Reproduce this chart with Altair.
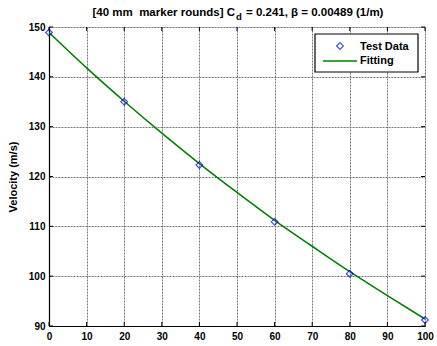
import altair as alt
import pandas as pd

# Test data
test_range = [0, 20, 40, 60, 80, 100]
test_velocity = [148.9, 135.0, 122.3, 110.9, 100.5, 91.2]

# Fitted curve
fit_range = [0, 10, 20, 30, 40, 50, 60, 70, 80, 90, 100]
fit_velocity = [148.9, 141.8, 135.1, 128.7, 122.6, 116.8, 111.2, 106.0, 100.9, 96.1, 91.4]

x_ticks = [0, 10, 20, 30, 40, 50, 60, 70, 80, 90, 100]
y_ticks = [90, 100, 110, 120, 130, 140, 150]

FONT = "Liberation Sans"

test_df = pd.DataFrame({"range": test_range, "velocity": test_velocity})
fit_df = pd.DataFrame({"range": fit_range, "velocity": fit_velocity})
xt_df = pd.DataFrame({"t": x_ticks})
yt_df = pd.DataFrame({"t": y_ticks})

xscale = alt.Scale(domain=[0, 100], nice=False, zero=False)
yscale = alt.Scale(domain=[90, 150], nice=False, zero=False)

xaxis = alt.Axis(values=x_ticks, title="Range (m)", grid=True, ticks=False,
                 labelOverlap=False, labelBound=False, labelFlush=False,
                 labelPadding=5, labelFont=FONT, labelFontWeight="bold", labelFontSize=10,
                 labelColor="black", titleFont=FONT, titleFontWeight="bold", titleFontSize=11,
                 titleColor="black", titleBaseline="top", titleY=18,
                 domainColor="black", domainWidth=1.2,
                 gridColor="#777777", gridDash=[2, 1], gridWidth=1)
yaxis = alt.Axis(values=y_ticks, title="Velocity (m/s)", grid=True, ticks=False,
                 labelOverlap=False, labelBound=False, labelFlush=False,
                 labelPadding=4, labelFont=FONT, labelFontWeight="bold", labelFontSize=10,
                 labelColor="black", titleFont=FONT, titleFontWeight="bold", titleFontSize=11,
                 titleColor="black", titlePadding=10,
                 domainColor="black", domainWidth=1.2,
                 gridColor="#777777", gridDash=[2, 1], gridWidth=1)

fit_line = alt.Chart(fit_df).mark_line(color="#008000", strokeWidth=1.6, interpolate="monotone").encode(
    x=alt.X("range:Q", scale=xscale, axis=xaxis),
    y=alt.Y("velocity:Q", scale=yscale, axis=yaxis),
)

points = alt.Chart(test_df).mark_point(shape="diamond", filled=False, color="#0000ff",
                                       size=45, strokeWidth=1.2).encode(
    x=alt.X("range:Q", scale=xscale, axis=xaxis),
    y=alt.Y("velocity:Q", scale=yscale, axis=yaxis),
)

# inward ticks on all four sides
top_ticks = alt.Chart(xt_df).mark_rule(color="black", strokeWidth=1).encode(
    x=alt.X("t:Q", scale=xscale, axis=xaxis), y=alt.value(0), y2=alt.value(4))
bot_ticks = alt.Chart(xt_df).mark_rule(color="black", strokeWidth=1).encode(
    x=alt.X("t:Q", scale=xscale, axis=xaxis), y=alt.value(299), y2=alt.value(295))
left_ticks = alt.Chart(yt_df).mark_rule(color="black", strokeWidth=1).encode(
    y=alt.Y("t:Q", scale=yscale, axis=yaxis), x=alt.value(0), x2=alt.value(4))
right_ticks = alt.Chart(yt_df).mark_rule(color="black", strokeWidth=1).encode(
    y=alt.Y("t:Q", scale=yscale, axis=yaxis), x=alt.value(376), x2=alt.value(372))

# legend
one = pd.DataFrame({"a": [0]})
leg_box = alt.Chart(one).mark_rect(fill="white", stroke="black", strokeWidth=1.2).encode(
    x=alt.value(266), x2=alt.value(369), y=alt.value(7), y2=alt.value(45))
leg_pt = alt.Chart(one).mark_point(shape="diamond", filled=False, color="#0000ff",
                                   size=45, strokeWidth=1.2).encode(
    x=alt.value(291), y=alt.value(19))
leg_line = alt.Chart(one).mark_rule(color="#008000", strokeWidth=1.6).encode(
    x=alt.value(274), x2=alt.value(308), y=alt.value(34))
leg_text = alt.Chart(pd.DataFrame({"label": ["Test Data", "Fitting"], "yy": [20, 34]})).mark_text(
    align="left", baseline="middle", font=FONT, fontWeight="bold", fontSize=11, color="black").encode(
    x=alt.value(311), y=alt.Y("yy:Q", scale=None), text="label:N")

# title with subscript
t1 = alt.Chart(one).mark_text(
    align="right", baseline="alphabetic", font=FONT, fontWeight="bold", fontSize=11.5, color="black",
    text="[40 mm \u00a0marker rounds] C").encode(x=alt.value(186), y=alt.value(-11))
t2 = alt.Chart(one).mark_text(
    align="left", baseline="alphabetic", font=FONT, fontWeight="bold", fontSize=9.5, color="black",
    text="d").encode(x=alt.value(187), y=alt.value(-7))
t3 = alt.Chart(one).mark_text(
    align="left", baseline="alphabetic", font=FONT, fontWeight="bold", fontSize=11.5, color="black",
    text="= 0.241, β = 0.00489 (1/m)").encode(x=alt.value(197), y=alt.value(-11))

chart = alt.layer(
    fit_line, points, top_ticks, bot_ticks, left_ticks, right_ticks,
    leg_box, leg_pt, leg_line, leg_text, t1, t2, t3
).properties(
    width=376, height=299,
    autosize=alt.AutoSizeParams(type="none"),
    padding={"left": 49, "top": 27, "right": 12, "bottom": 20},
).configure_view(stroke="black", strokeWidth=1.2).configure(background="white")

chart.save("out.html", embed_options={"renderer": "svg", "actions": False})
